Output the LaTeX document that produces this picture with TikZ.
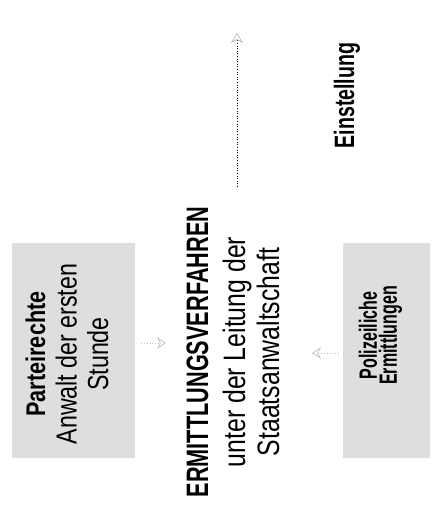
\documentclass[tikz,border=0pt]{standalone}
\usepackage{fontspec}
\newfontfamily\cond{Liberation Sans}[FakeStretch=0.80]
\newfontfamily\narrow{Liberation Sans}[FakeStretch=0.70]
\newfontfamily\tight{Liberation Sans}[FakeStretch=0.64]
\usetikzlibrary{arrows.meta}
\begin{document}
\begin{tikzpicture}[x=1pt, y=1pt,
    box/.style={fill=black!13, minimum width=123pt, minimum height=215pt, inner sep=0pt},
    txt/.style={rotate=90, align=center, inner sep=0pt, text=black},
    faint/.style={gray!45, dotted, thick, -{Stealth[length=9pt, width=12pt, open]}}]
    \useasboundingbox (0,0) rectangle (432,515);
    \node[box] (L) at (73.5,164.5) {};
    \node[box, minimum width=87pt] (R) at (386.5,164.5) {};
    \node[txt, font=\cond\fontsize{29}{31.5}\selectfont] (Lt) at (67,161)
        {{\bfseries\fontsize{27}{31.5}\selectfont Parteirechte}\\ Anwalt der ersten\\ Stunde};
    \node[txt, font=\cond\fontsize{31}{34}\selectfont] (E) at (233,163)
        {{\narrow\bfseries\fontsize{31}{34}\selectfont ERMITTLUNGSVERFAHREN}\\[3pt] unter der Leitung der\\ Staatsanwaltschaft};
    \node[txt, font=\tight\bfseries\fontsize{25}{20}\selectfont] (Rt) at (380.5,179.5)
        {Polizeiliche\\ Ermittlungen};
    \node[txt, font=\narrow\bfseries\fontsize{28}{30}\selectfont] (S) at (347,419.5) {Einstellung};
    \coordinate (top) at (237,482);
    \coordinate (la) at (166,172);
    \coordinate (ra) at (312,162);

    \draw[dotted, semithick, -{Stealth[length=10pt, width=12pt, open, gray!60]}] (E.east -| top) ++(0,20) -- (top);
    \draw[faint] (L.east |- la) ++(6,0) -- (la);
    \draw[faint] (R.west |- ra) ++(-4,0) -- (ra);
\end{tikzpicture}
\end{document}
